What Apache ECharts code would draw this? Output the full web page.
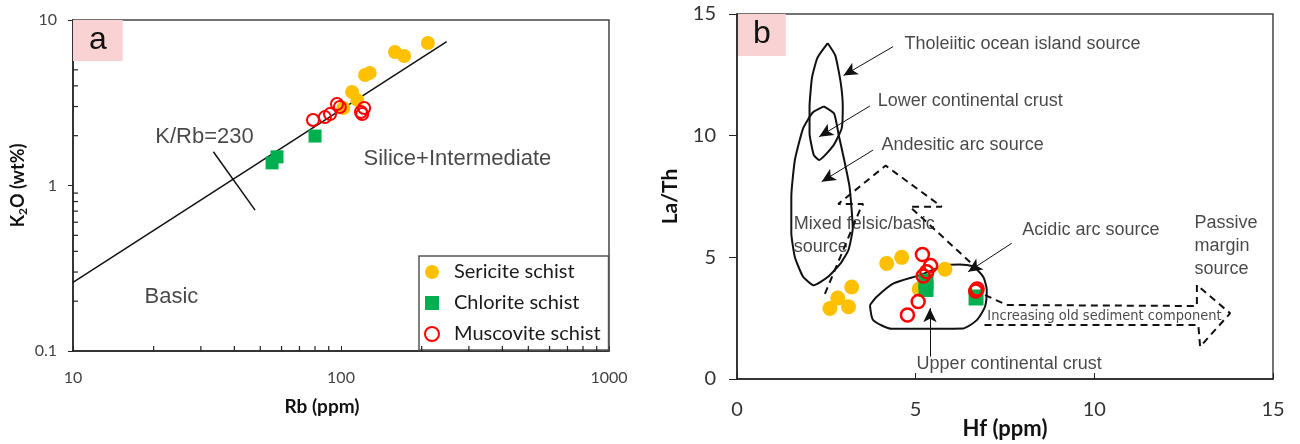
<!DOCTYPE html>
<html><head><meta charset="utf-8">
<script src="https://cdn.jsdelivr.net/npm/echarts@6/dist/echarts.min.js"></script>
<style>html,body{margin:0;padding:0;background:#fff}#c{width:1300px;height:444px}</style>
</head><body><div id="c"></div>
<script>
// ---------- Panel a : K2O vs Rb ----------
const sericiteRb  = [211, 159, 172, 123, 128, 110, 115, 102];
const sericiteK2O = [7.26, 6.41, 6.06, 4.65, 4.79, 3.67, 3.29, 2.94];
const chloriteRb  = [80, 57.7, 55.3];
const chloriteK2O = [1.99, 1.49, 1.37];
const muscoviteRb  = [78.6, 87.1, 91, 96.6, 99, 118.7, 122, 120];
const muscoviteK2O = [2.49, 2.59, 2.70, 3.11, 2.98, 2.78, 2.94, 2.70];
const krbLineRb  = [10, 248];
const krbLineK2O = [0.26, 7.4];
const krbCrossRb  = [33.4, 47.8];
const krbCrossK2O = [1.6, 0.71];
const minorRbTicks  = [20,30,40,50,60,70,80,90,200,300,400,500,600,700,800,900];
const minorK2OTicks = [0.2,0.3,0.4,0.5,0.6,0.7,0.8,0.9,2,3,4,5,6,7,8,9];
const notesA  = ['K/Rb=230', 'Basic', 'Silice+Intermediate'];
const notesARb  = [31.1, 23.4, 273];
const notesAK2O = [1.96, 0.212, 1.43];
const seriesNames = ['Sericite schist', 'Chlorite schist', 'Muscovite schist'];

// ---------- Panel b : La/Th vs Hf ----------
const sericiteHf   = [2.60, 2.82, 3.12, 3.21, 4.19, 4.61, 5.82, 5.10];
const sericiteLaTh = [2.90, 3.33, 2.97, 3.78, 4.75, 5.00, 4.51, 3.70];
const chloriteHf   = [5.29, 5.29, 6.69];
const chloriteLaTh = [4.0, 3.7, 3.35];
const muscoviteHf   = [5.19, 5.42, 5.31, 5.21, 5.07, 4.77, 6.68, 6.72];
const muscoviteLaTh = [5.12, 4.66, 4.41, 4.23, 3.18, 2.63, 3.62, 3.70];
// field outlines (Hf, La/Th)
const tholeiiticHf   = [2.54,2.75,2.90,2.96,2.93,2.70,2.30,2.15,2.03,2.03,2.10,2.25,2.54];
const tholeiiticLaTh = [13.8,13.3,12.2,11.2,10.3,9.6,9.0,9.2,10.1,11.2,12.4,13.2,13.8];
const andesiticHf   = [2.43,2.72,2.85,3.00,3.15,3.24,3.12,2.90,2.55,2.15,1.85,1.62,1.52,1.52,1.62,1.85,2.12,2.43];
const andesiticLaTh = [11.2,10.9,10.0,9.0,7.9,6.2,5.3,4.75,4.2,3.85,4.2,5.0,6.0,7.5,9.0,10.3,10.95,11.2];
const acidicHf   = [3.72,3.81,4.33,6.33,6.71,6.94,6.99,6.89,6.61,6.24,5.87,5.12,4.38,3.91,3.72];
const acidicLaTh = [3.04,2.42,2.06,2.08,2.42,2.97,3.66,4.20,4.62,4.71,4.69,4.27,3.93,3.38,3.04];
const mixedArrowHf   = [2.46,3.44,3.53,2.83,4.16,5.73,4.84,6.66];
const mixedArrowLaTh = [3.50,6.95,7.19,7.19,8.77,7.08,7.08,4.62];
const sedimentArrowHf   = [6.94,7.55,12.87,12.87,13.80,12.96,12.91,6.85];
const sedimentArrowLaTh = [3.45,3.04,3.00,3.86,2.70,1.33,2.22,2.22];
// pointer arrows: [fromHf, fromLaTh, toHf, toLaTh]
const pointerArrows = [
  [4.37,13.66, 2.98,12.47],
  [3.72,11.22, 2.30,9.96],
  [3.81,9.41, 2.37,8.11],
  [7.69,5.58, 6.47,4.41],
  [5.40,0.92, 5.40,2.91]
];
const notesB = ['Tholeiitic ocean island source','Lower continental crust','Andesitic arc source',
  'Acidic arc source','Upper continental crust','Passive\nmargin\nsource','Mixed felsic/basic\nsource'];
const notesBHf   = [4.70, 3.95, 4.06, 8.00, 5.04, 12.82, 1.60];
const notesBLaTh = [13.76, 11.41, 9.58, 6.09, 0.58, 5.43, 5.86];
const sedimentNote = 'Increasing old sediment component';
const sedimentNoteHf = 7.02, sedimentNoteLaTh = 2.55;

const zip = (a, b) => a.map((v, i) => [v, b[i]]);
const COLORS = ['#FFC000', '#00B050', '#FF0000'];
const SANS = "'Liberation Sans', Arial, sans-serif";
const NUM = "Lato, 'Liberation Sans', sans-serif";
const logLabel = v => v >= 1 ? String(Math.round(v)) : String(+v.toFixed(2));

function minorTickSeries(values, axis, xIdx, yIdx, other, len) {
  return {
    type: 'custom', coordinateSystem: 'cartesian2d', xAxisIndex: xIdx, yAxisIndex: yIdx,
    silent: true, z: 5, clip: false, encode: { x: 0, y: 1 },
    data: values.map(v => axis === 'x' ? [v, other] : [other, v]),
    renderItem: (params, api) => {
      const p = api.coord([api.value(0), api.value(1)]);
      const shape = axis === 'x'
        ? { x1: p[0], y1: p[1], x2: p[0], y2: p[1] - len }
        : { x1: p[0], y1: p[1], x2: p[0] + len, y2: p[1] };
      return { type: 'line', shape: shape, style: { stroke: '#222', lineWidth: 1.2 } };
    }
  };
}

function noteSeries(names, xs, ys, xIdx, yIdx, align, fontSize, extra) {
  return {
    type: 'scatter', xAxisIndex: xIdx, yAxisIndex: yIdx, silent: true,
    symbolSize: 1, itemStyle: { color: 'rgba(0,0,0,0)' }, z: 6,
    data: names.map((n, i) => ({ value: [xs[i], ys[i]], name: n })),
    label: Object.assign({
      show: true, position: [0, 0], align: align, verticalAlign: 'middle',
      formatter: p => p.name, color: '#1a1a1a', fontFamily: SANS, fontSize: fontSize, lineHeight: 23
    }, extra || {})
  };
}

const outline = (data, dashed) => ({
  type: 'line', xAxisIndex: 1, yAxisIndex: 1, data, symbol: 'none', silent: true, z: 3,
  lineStyle: { color: '#111', width: 2, type: dashed ? [7, 5] : 'solid' }
});

const chart = echarts.init(document.getElementById('c'));
chart.setOption({
  animation: false,
  backgroundColor: '#fff',
  title: [
    { text: 'a', left: 73, top: 20, backgroundColor: '#f9d3d3', padding: [3, 16, 3, 16],
      textStyle: { fontFamily: SANS, fontSize: 32, fontWeight: 'normal', color: '#111', lineHeight: 35 } },
    { text: 'b', left: 738, top: 14, backgroundColor: '#f9d3d3', padding: [3, 15, 4, 15],
      textStyle: { fontFamily: SANS, fontSize: 32, fontWeight: 'normal', color: '#111', lineHeight: 35 } }
  ],
  legend: {
    data: [
      { name: seriesNames[0], icon: 'circle', itemStyle: { color: COLORS[0] } },
      { name: seriesNames[1], icon: 'rect', itemStyle: { color: COLORS[1] } },
      { name: seriesNames[2], icon: 'circle', itemStyle: { color: '#fff', borderColor: COLORS[2], borderWidth: 2 } }
    ],
    orient: 'vertical', left: 419, top: 256, selectedMode: false,
    itemWidth: 14, itemHeight: 14, itemGap: 11,
    padding: [6, 8, 6, 5],
    backgroundColor: '#fff', borderColor: '#555', borderWidth: 1.5, borderRadius: 0,
    textStyle: { fontFamily: NUM, fontSize: 20, color: '#1a1a1a', padding: [0, 0, 0, 10] }
  },
  grid: [
    { left: 73, top: 20, width: 536, height: 331, show: true, borderColor: '#444', borderWidth: 1.5,
      outerBoundsMode: 'none', containLabel: false },
    { left: 737, top: 14, width: 536, height: 365, show: true, borderColor: '#444', borderWidth: 1.5,
      outerBoundsMode: 'none', containLabel: false }
  ],
  xAxis: [
    { gridIndex: 0, type: 'log', logBase: 10, min: 10, max: 1000,
      axisLine: { lineStyle: { color: '#222', width: 1.5 } },
      axisTick: { inside: true, length: 5, lineStyle: { color: '#222' } },
      splitLine: { show: false },
      axisLabel: { fontFamily: NUM, fontSize: 16, color: '#444', margin: 19, formatter: logLabel },
      name: 'Rb (ppm)', nameLocation: 'middle', nameGap: 46, nameMoveOverlap: false,
      nameTextStyle: { fontFamily: NUM, fontWeight: 'bold', fontSize: 19, color: '#111', padding: [0, 38, 0, 0] } },
    { gridIndex: 1, type: 'value', min: 0, max: 15, interval: 5,
      axisLine: { lineStyle: { color: '#222', width: 1.5 } },
      axisTick: { inside: true, length: 6, lineStyle: { color: '#222' } },
      splitLine: { show: false },
      axisLabel: { fontFamily: NUM, fontSize: 20, color: '#333', margin: 21 },
      name: 'Hf (ppm)', nameLocation: 'middle', nameGap: 39, nameMoveOverlap: false,
      nameTextStyle: { fontFamily: NUM, fontWeight: 'bold', fontSize: 22, color: '#111' } }
  ],
  yAxis: [
    { gridIndex: 0, type: 'log', logBase: 10, min: 0.1, max: 10,
      axisLine: { lineStyle: { color: '#222', width: 1.5 } },
      axisTick: { inside: false, length: 5, lineStyle: { color: '#222' } },
      splitLine: { show: false },
      axisLabel: { fontFamily: NUM, fontSize: 16, color: '#444', margin: 16, formatter: logLabel },
      name: '{a|K}{s|2}{a|O (wt%)}', nameLocation: 'middle', nameGap: 44, nameMoveOverlap: false,
      nameTextStyle: { rich: {
        a: { fontFamily: NUM, fontWeight: 'bold', fontSize: 18, color: '#111', lineHeight: 22 },
        s: { fontFamily: NUM, fontWeight: 'bold', fontSize: 12, color: '#111', lineHeight: 12, verticalAlign: 'bottom' } } } },
    { gridIndex: 1, type: 'value', min: 0, max: 15, interval: 5,
      axisLine: { lineStyle: { color: '#222', width: 1.5 } },
      axisTick: { inside: false, length: 8, lineStyle: { color: '#222' } },
      splitLine: { show: false },
      axisLabel: { fontFamily: NUM, fontSize: 20, color: '#333', margin: 21 },
      name: 'La/Th', nameLocation: 'middle', nameGap: 56, nameMoveOverlap: false,
      nameTextStyle: { fontFamily: NUM, fontWeight: 'bold', fontSize: 21, color: '#111' } }
  ],
  series: [
    // panel a
    { type: 'line', xAxisIndex: 0, yAxisIndex: 0, data: zip(krbLineRb, krbLineK2O), symbol: 'none', silent: true,
      lineStyle: { color: '#111', width: 1.5 }, z: 3 },
    { type: 'line', xAxisIndex: 0, yAxisIndex: 0, data: zip(krbCrossRb, krbCrossK2O), symbol: 'none', silent: true,
      lineStyle: { color: '#111', width: 1.5 }, z: 3 },
    minorTickSeries(minorRbTicks, 'x', 0, 0, 0.1, 5),
    minorTickSeries(minorK2OTicks, 'y', 0, 0, 10, 5),
    noteSeries(notesA, notesARb, notesAK2O, 0, 0, 'center', 22),
    { name: seriesNames[0], type: 'scatter', xAxisIndex: 0, yAxisIndex: 0, symbol: 'circle', symbolSize: 14,
      itemStyle: { color: COLORS[0], opacity: 1 }, data: zip(sericiteRb, sericiteK2O), z: 10 },
    { name: seriesNames[1], type: 'scatter', xAxisIndex: 0, yAxisIndex: 0, symbol: 'rect', symbolSize: 13,
      itemStyle: { color: COLORS[1], opacity: 1 }, data: zip(chloriteRb, chloriteK2O), z: 11 },
    { name: seriesNames[2], type: 'scatter', xAxisIndex: 0, yAxisIndex: 0, symbol: 'circle', symbolSize: 12,
      itemStyle: { color: 'rgba(255,255,255,0)', borderColor: COLORS[2], borderWidth: 2, opacity: 1 },
      data: zip(muscoviteRb, muscoviteK2O), z: 12 },
    // panel b
    Object.assign(outline(zip(tholeiiticHf, tholeiiticLaTh), false), { smooth: 0.15 }),
    Object.assign(outline(zip(andesiticHf, andesiticLaTh), false), { smooth: 0.15 }),
    Object.assign(outline(zip(acidicHf, acidicLaTh), false), { smooth: 0.2 }),
    outline(zip(mixedArrowHf, mixedArrowLaTh), true),
    Object.assign(outline(zip(sedimentArrowHf, sedimentArrowLaTh), true), {
      markLine: {
        silent: true, symbol: ['none', 'arrow'], symbolSize: [10, 14],
        lineStyle: { color: '#111', width: 1, type: 'solid' }, label: { show: false },
        data: pointerArrows.map(a => [{ coord: [a[0], a[1]] }, { coord: [a[2], a[3]] }])
      }
    }),
    noteSeries(notesB, notesBHf, notesBLaTh, 1, 1, 'left', 18),
    noteSeries([sedimentNote], [sedimentNoteHf], [sedimentNoteLaTh], 1, 1, 'left', 14.5,
      { fontFamily: "'Liberation Sans Narrow', 'DejaVu Sans Condensed', sans-serif" }),
    { name: seriesNames[0], type: 'scatter', xAxisIndex: 1, yAxisIndex: 1, symbol: 'circle', symbolSize: 15,
      itemStyle: { color: COLORS[0], opacity: 1 }, data: zip(sericiteHf, sericiteLaTh), z: 10 },
    { name: seriesNames[1], type: 'scatter', xAxisIndex: 1, yAxisIndex: 1, symbol: 'rect', symbolSize: [15, 16],
      itemStyle: { color: COLORS[1], opacity: 1 }, data: zip(chloriteHf, chloriteLaTh), z: 11 },
    { name: seriesNames[2], type: 'scatter', xAxisIndex: 1, yAxisIndex: 1, symbol: 'circle', symbolSize: 13,
      itemStyle: { color: 'rgba(255,255,255,0)', borderColor: COLORS[2], borderWidth: 2.5, opacity: 1 },
      data: zip(muscoviteHf, muscoviteLaTh), z: 12 }
  ]
});
</script></body></html>
